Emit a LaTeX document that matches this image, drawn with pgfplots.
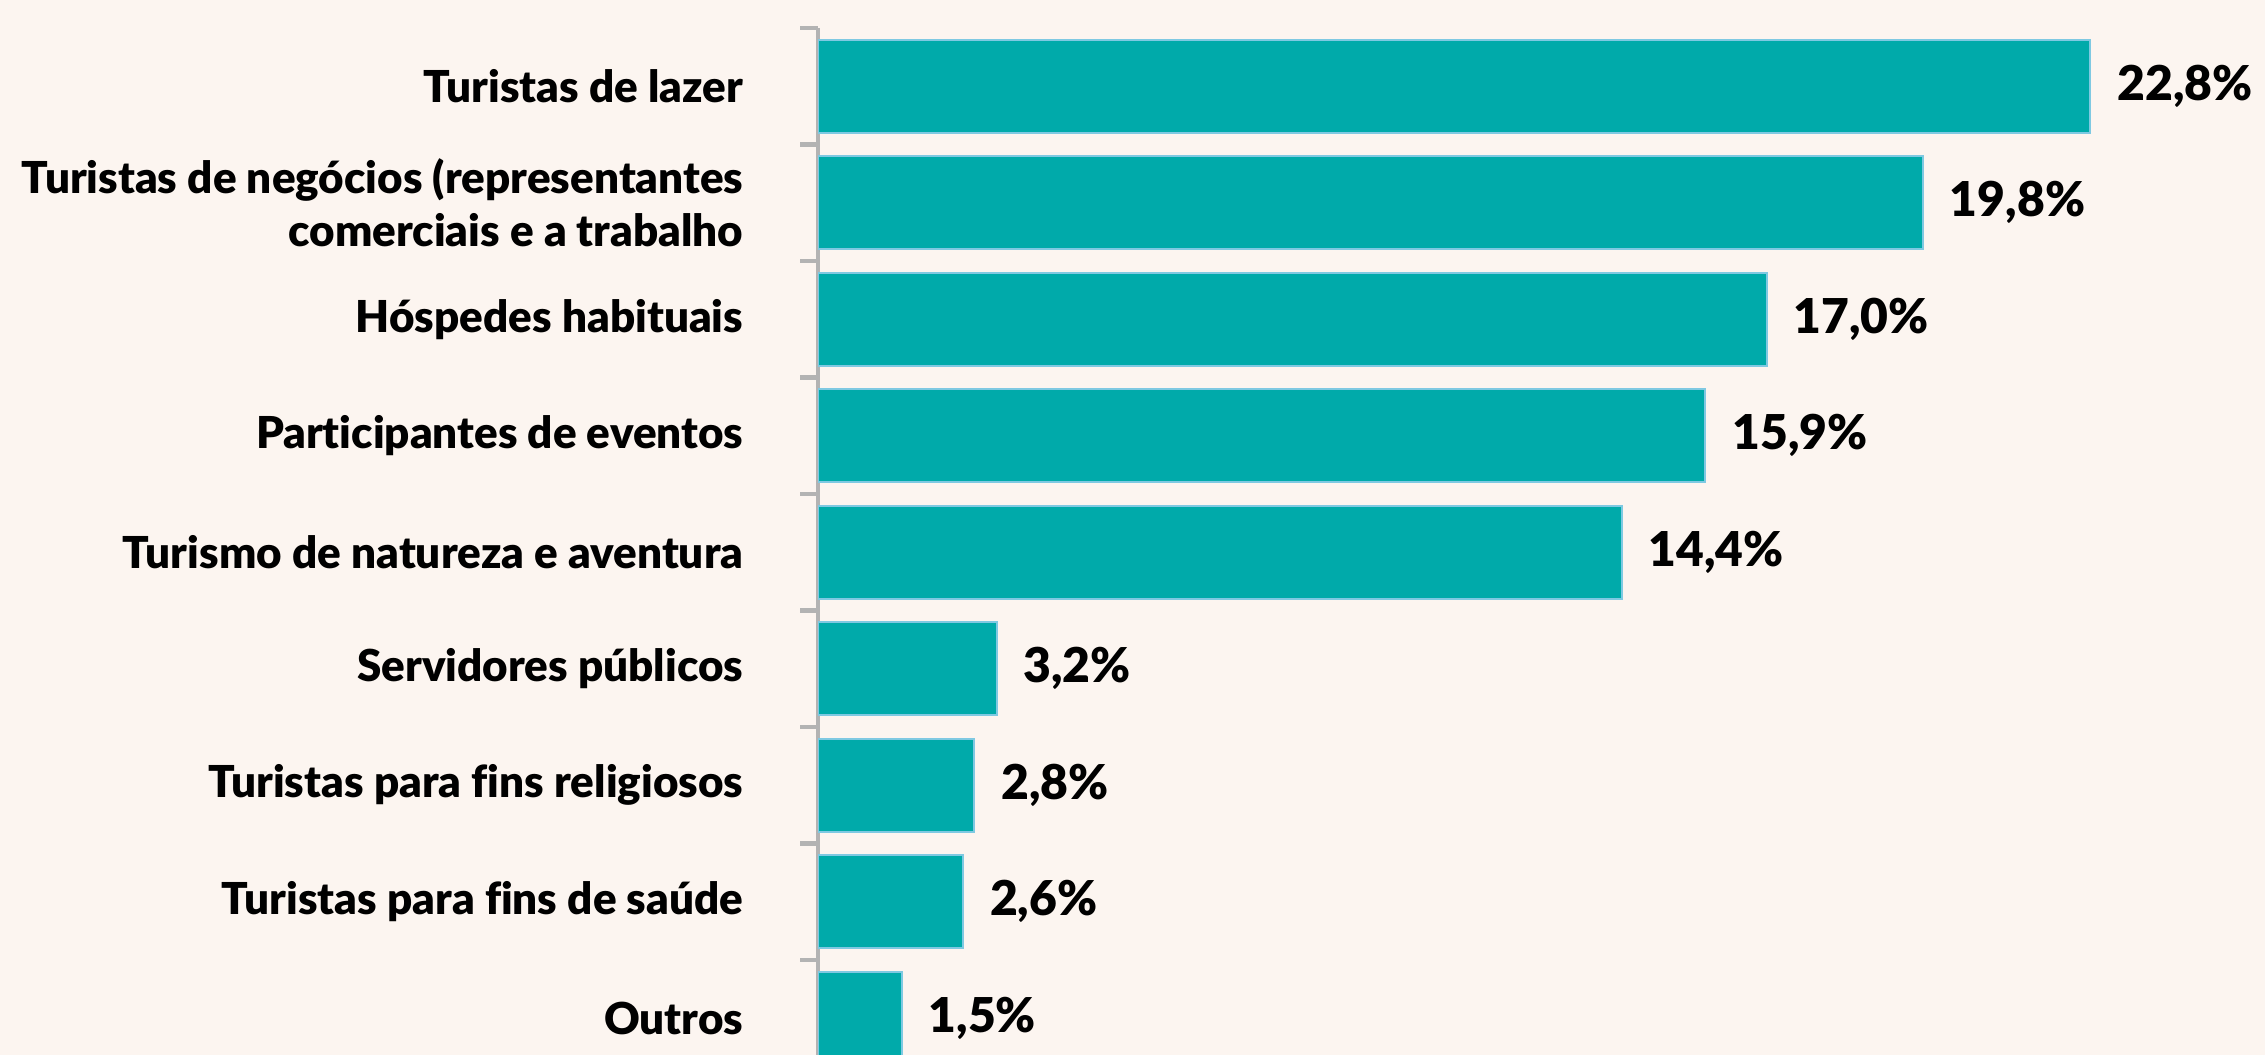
\documentclass[border=0pt]{standalone}
\usepackage{fontspec}
\setmainfont{Lato}[BoldFont={Lato Black}, Ligatures=NoCommon]
\usepackage{pgfplots}
\pgfplotsset{compat=1.18}
\definecolor{bg}{HTML}{FCF5F0}
\definecolor{barfill}{HTML}{00AAAA}
\definecolor{barline}{HTML}{7FC9E2}
\definecolor{axisgray}{HTML}{B3B3B3}

\begin{document}
\begin{tikzpicture}
  \fill[bg] (0,0) rectangle (566.25pt,263.75pt);
  \begin{axis}[
    at={(204.5pt,0pt)}, anchor=south west,
    scale only axis, width=358pt, height=256.75pt,
    xbar, bar width=23.25pt,
    xmin=0, xmax=25.66,
    ymin=-0.5, ymax=8.315,
    y dir=reverse,
    axis x line=none,
    axis y line*=left,
    axis line style={axisgray, line width=0.9pt, -},
    ytick={-0.5,0.5,...,7.5},
    yticklabels={},
    tick align=outside,
    major tick length=4.5pt,
    every tick/.style={axisgray, line width=1.1pt},
    extra y ticks={0,1,2,3,4,5,6,7,8},
    extra y tick labels={
      Turistas de lazer,
      {Turistas de negócios (representantes\\comerciais e a trabalho},
      Hóspedes habituais,
      Participantes de eventos,
      Turismo de natureza e aventura,
      Servidores públicos,
      Turistas para fins religiosos,
      Turistas para fins de saúde,
      Outros},
    extra y tick style={major tick length=0pt,
      yticklabel style={align=right, inner sep=0pt, xshift=-18.5pt,
        font=\bfseries\fontsize{11}{13.4}\selectfont}},
    /pgf/number format/assume math mode=true,
    point meta=x,
    nodes near coords={\pgfmathprintnumber[fixed, fixed zerofill, precision=1, use comma]{\pgfplotspointmeta}\%},
    every node near coord/.append style={font=\bfseries\fontsize{12}{14}\selectfont,
      anchor=west, inner sep=0pt, xshift=6.5pt, black},
  ]
  \addplot[fill=barfill, draw=barline, line width=0.5pt] coordinates {
    (22.8,0) (19.8,1) (17.0,2) (15.9,3) (14.4,4)
    (3.2,5) (2.8,6) (2.6,7) (1.5,8)
  };
  \end{axis}
  \pgfresetboundingbox
  \useasboundingbox (0,0) rectangle (566.25pt,263.75pt);
\end{tikzpicture}
\end{document}
